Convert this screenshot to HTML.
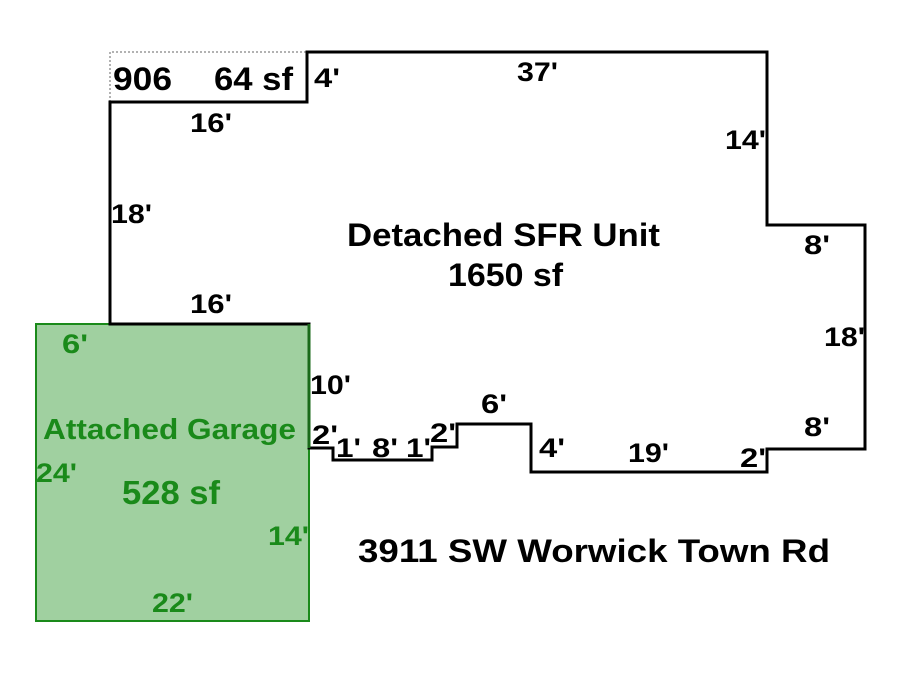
<!DOCTYPE html>
<html><head><style>body{margin:0;background:#fff}svg{display:block}</style></head>
<body>
<svg width="900" height="675" viewBox="0 0 900 675" xmlns="http://www.w3.org/2000/svg" font-family="Liberation Sans, Arial, sans-serif" font-weight="bold">
<rect width="900" height="675" fill="#fff"/>
<path d="M110,102 V52 H307" fill="none" stroke="#666" stroke-width="1" stroke-dasharray="2,2"/>
<rect x="36" y="324" width="273" height="297" fill="#a0d0a0" stroke="#1a8a1a" stroke-width="2"/>
<path d="M110,102 H307 V52 H767 V225 H865 V449 H767 V472 H531 V424 H457 V447 H432 V460 H333 V448 H309 V324 H110 Z" fill="none" stroke="#000" stroke-width="3"/>
<path d="M309,324 V448" stroke="#1a6a1a" stroke-width="3"/>
<g fill="#000" font-size="32">
<text x="113" y="90" textLength="59" lengthAdjust="spacingAndGlyphs">906</text>
<text x="214" y="90" textLength="79" lengthAdjust="spacingAndGlyphs">64 sf</text>
<text x="347" y="246" textLength="313" lengthAdjust="spacingAndGlyphs">Detached SFR Unit</text>
<text x="448" y="286" textLength="115" lengthAdjust="spacingAndGlyphs">1650 sf</text>
<text x="358" y="562" textLength="472" lengthAdjust="spacingAndGlyphs">3911 SW Worwick Town Rd</text>
</g>
<g fill="#000" font-size="27">
<text x="314" y="87" textLength="26" lengthAdjust="spacingAndGlyphs">4'</text>
<text x="517" y="81" textLength="41" lengthAdjust="spacingAndGlyphs">37'</text>
<text x="190" y="132" textLength="42" lengthAdjust="spacingAndGlyphs">16'</text>
<text x="725" y="149" textLength="41" lengthAdjust="spacingAndGlyphs">14'</text>
<text x="111" y="223" textLength="41" lengthAdjust="spacingAndGlyphs">18'</text>
<text x="804" y="254" textLength="26" lengthAdjust="spacingAndGlyphs">8'</text>
<text x="190" y="313" textLength="42" lengthAdjust="spacingAndGlyphs">16'</text>
<text x="824" y="346" textLength="41" lengthAdjust="spacingAndGlyphs">18'</text>
<text x="310" y="394" textLength="41" lengthAdjust="spacingAndGlyphs">10'</text>
<text x="481" y="413" textLength="26" lengthAdjust="spacingAndGlyphs">6'</text>
<text x="804" y="436" textLength="26" lengthAdjust="spacingAndGlyphs">8'</text>
<text x="312" y="444" textLength="26" lengthAdjust="spacingAndGlyphs">2'</text>
<text x="336" y="457" textLength="25" lengthAdjust="spacingAndGlyphs">1'</text>
<text x="372" y="457" textLength="26" lengthAdjust="spacingAndGlyphs">8'</text>
<text x="406" y="457" textLength="25" lengthAdjust="spacingAndGlyphs">1'</text>
<text x="430" y="442" textLength="26" lengthAdjust="spacingAndGlyphs">2'</text>
<text x="539" y="457" textLength="26" lengthAdjust="spacingAndGlyphs">4'</text>
<text x="628" y="462" textLength="41" lengthAdjust="spacingAndGlyphs">19'</text>
<text x="740" y="467" textLength="26" lengthAdjust="spacingAndGlyphs">2'</text>
</g>
<g fill="#1a8a1a" font-size="27">
<text x="62" y="353" textLength="26" lengthAdjust="spacingAndGlyphs">6'</text>
<text x="43" y="439" font-size="29" textLength="253" lengthAdjust="spacingAndGlyphs">Attached Garage</text>
<text x="36" y="482" textLength="41" lengthAdjust="spacingAndGlyphs">24'</text>
<text x="122" y="504" font-size="33" textLength="98" lengthAdjust="spacingAndGlyphs">528 sf</text>
<text x="268" y="545" textLength="41" lengthAdjust="spacingAndGlyphs">14'</text>
<text x="152" y="612" textLength="41" lengthAdjust="spacingAndGlyphs">22'</text>
</g>
</svg>
</body></html>
